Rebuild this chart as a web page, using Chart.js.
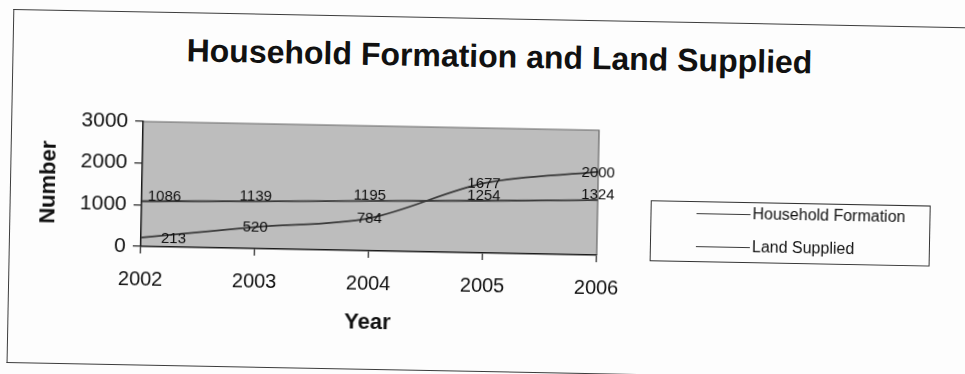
<!DOCTYPE html>
<html>
<head>
<meta charset="utf-8">
<script src="https://cdn.jsdelivr.net/npm/chart.js@4.4.1/dist/chart.umd.min.js"></script>
<style>
  html, body { margin: 0; padding: 0; background: #fdfdfd; overflow: hidden; }
  #sheet {
    position: relative; width: 965px; height: 374px;
    transform: rotate(1.1deg); transform-origin: 482.5px 187px;
    font-family: "Liberation Sans", Arial, sans-serif; color: #111;
  }
  #frame {
    position: absolute; left: 10px; top: 18px; width: 1000px; height: 352px;
    border: 1.5px solid #3d3d3d; border-right: none;
  }
  #title {
    position: absolute; left: 0; width: 994px; top: 40px;
    text-align: center; font-weight: bold; font-size: 32px; line-height: 32px;
  }
  #chart { position: absolute; left: 0; top: 0; }
  #legend {
    position: absolute; left: 651px; top: 197px; width: 280px; height: 61px;
    border: 1.2px solid #333; box-sizing: border-box; background: #fdfdfd;
  }
  .item {
    position: absolute; left: 45px; height: 16px;
    font-size: 16px; line-height: 16px; display: flex; align-items: center; white-space: nowrap;
  }
  .item i { display: block; width: 54px; border-top: 1.6px solid #3a3a3a; margin-right: 2px; }
</style>
</head>
<body>
<div id="sheet">
  <div id="frame"></div>
  <div id="title">Household Formation and Land Supplied</div>
  <canvas id="chart" width="965" height="374" style="width:965px;height:374px"></canvas>
  <div id="legend"></div>
</div>
<script>
const years = ['2002', '2003', '2004', '2005', '2006'];
const householdFormation = [213, 520, 784, 1677, 2000];
const landSupplied = [1086, 1139, 1195, 1254, 1324];
const seriesNames = ['Household Formation', 'Land Supplied'];
const yMax = 3000;
const yStep = 1000;

const fontFamily = '"Liberation Sans", Arial, sans-serif';
const lineColor = '#3a3a3a';
Chart.defaults.font.family = fontFamily;
Chart.defaults.color = '#111111';

// grey plot area with a thin frame on top and right
const plotBackground = {
  id: 'plotBackground',
  beforeDraw(chart) {
    const { ctx, chartArea: a } = chart;
    ctx.save();
    ctx.fillStyle = '#bdbdbd';
    ctx.fillRect(a.left, a.top, a.right - a.left, a.bottom - a.top);
    ctx.strokeStyle = '#666666';
    ctx.lineWidth = 1.2;
    ctx.beginPath();
    ctx.moveTo(a.left, a.top);
    ctx.lineTo(a.right, a.top);
    ctx.lineTo(a.right, a.bottom);
    ctx.stroke();
    ctx.restore();
  }
};

// value of every point written on the line
const valueLabels = {
  id: 'valueLabels',
  afterDatasetsDraw(chart) {
    const { ctx, chartArea } = chart;
    ctx.save();
    ctx.font = '15px ' + fontFamily;
    ctx.fillStyle = '#0e0e0e';
    ctx.textAlign = 'left';
    chart.data.datasets.forEach((ds, i) => {
      const meta = chart.getDatasetMeta(i);
      meta.data.forEach((pt, j) => {
        const text = String(ds.data[j]);
        const w = ctx.measureText(text).width;
        const x = Math.max(pt.x - w / 2, chartArea.left + ds.labelInset);
        if (ds.labelAbove) {
          ctx.textBaseline = 'alphabetic';
          ctx.fillText(text, x, pt.y - 1);
        } else {
          ctx.textBaseline = 'middle';
          ctx.fillText(text, x, pt.y + 1);
        }
      });
    });
    ctx.restore();
  }
};

const chart = new Chart(document.getElementById('chart'), {
  type: 'line',
  data: {
    labels: years,
    datasets: [
      {
        label: seriesNames[0],
        data: householdFormation,
        borderColor: lineColor,
        borderWidth: 1.8,
        pointRadius: 0,
        cubicInterpolationMode: 'monotone',
        labelAbove: false,
        labelInset: 20
      },
      {
        label: seriesNames[1],
        data: landSupplied,
        borderColor: lineColor,
        borderWidth: 1.8,
        pointRadius: 0,
        cubicInterpolationMode: 'monotone',
        labelAbove: true,
        labelInset: 6
      }
    ]
  },
  options: {
    responsive: false,
    animation: false,
    devicePixelRatio: 1,
    layout: { padding: { left: 30, top: 128, right: 367, bottom: 29 } },
    plugins: {
      legend: { display: false },
      tooltip: { enabled: false },
      title: { display: false }
    },
    scales: {
      x: {
        offset: false,
        grid: { drawOnChartArea: false, drawTicks: true, tickLength: 7, color: '#222222', lineWidth: 1.2 },
        border: { display: true, color: '#1a1a1a', width: 1.5 },
        ticks: { font: { size: 20 }, padding: 14, maxRotation: 0, autoSkip: false },
        title: {
          display: true, text: 'Year',
          font: { size: 22, weight: 'bold' },
          padding: { top: 0, bottom: 7 }
        },
        afterFit(scale) { scale.height = 92; }
      },
      y: {
        min: 0,
        max: yMax,
        grid: { drawOnChartArea: false, drawTicks: true, tickLength: 8, color: '#222222', lineWidth: 1.2 },
        border: { display: true, color: '#1a1a1a', width: 1.5 },
        ticks: { stepSize: yStep, font: { size: 21 }, padding: 7, callback: (v) => String(v) },
        title: {
          display: true, text: 'Number',
          font: { size: 22, weight: 'bold' },
          padding: { top: 6, bottom: 0 }
        },
        afterFit(scale) { scale.width = 112; }
      }
    }
  },
  plugins: [plotBackground, valueLabels]
});

// legend box next to the plot
const legend = document.getElementById('legend');
const rowTops = [3, 36];
chart.data.datasets.forEach((ds, i) => {
  const row = document.createElement('div');
  row.className = 'item';
  row.style.top = rowTops[i] + 'px';
  const swatch = document.createElement('i');
  swatch.style.borderTopColor = ds.borderColor;
  row.appendChild(swatch);
  row.appendChild(document.createTextNode(ds.label));
  legend.appendChild(row);
});
</script>
</body>
</html>
